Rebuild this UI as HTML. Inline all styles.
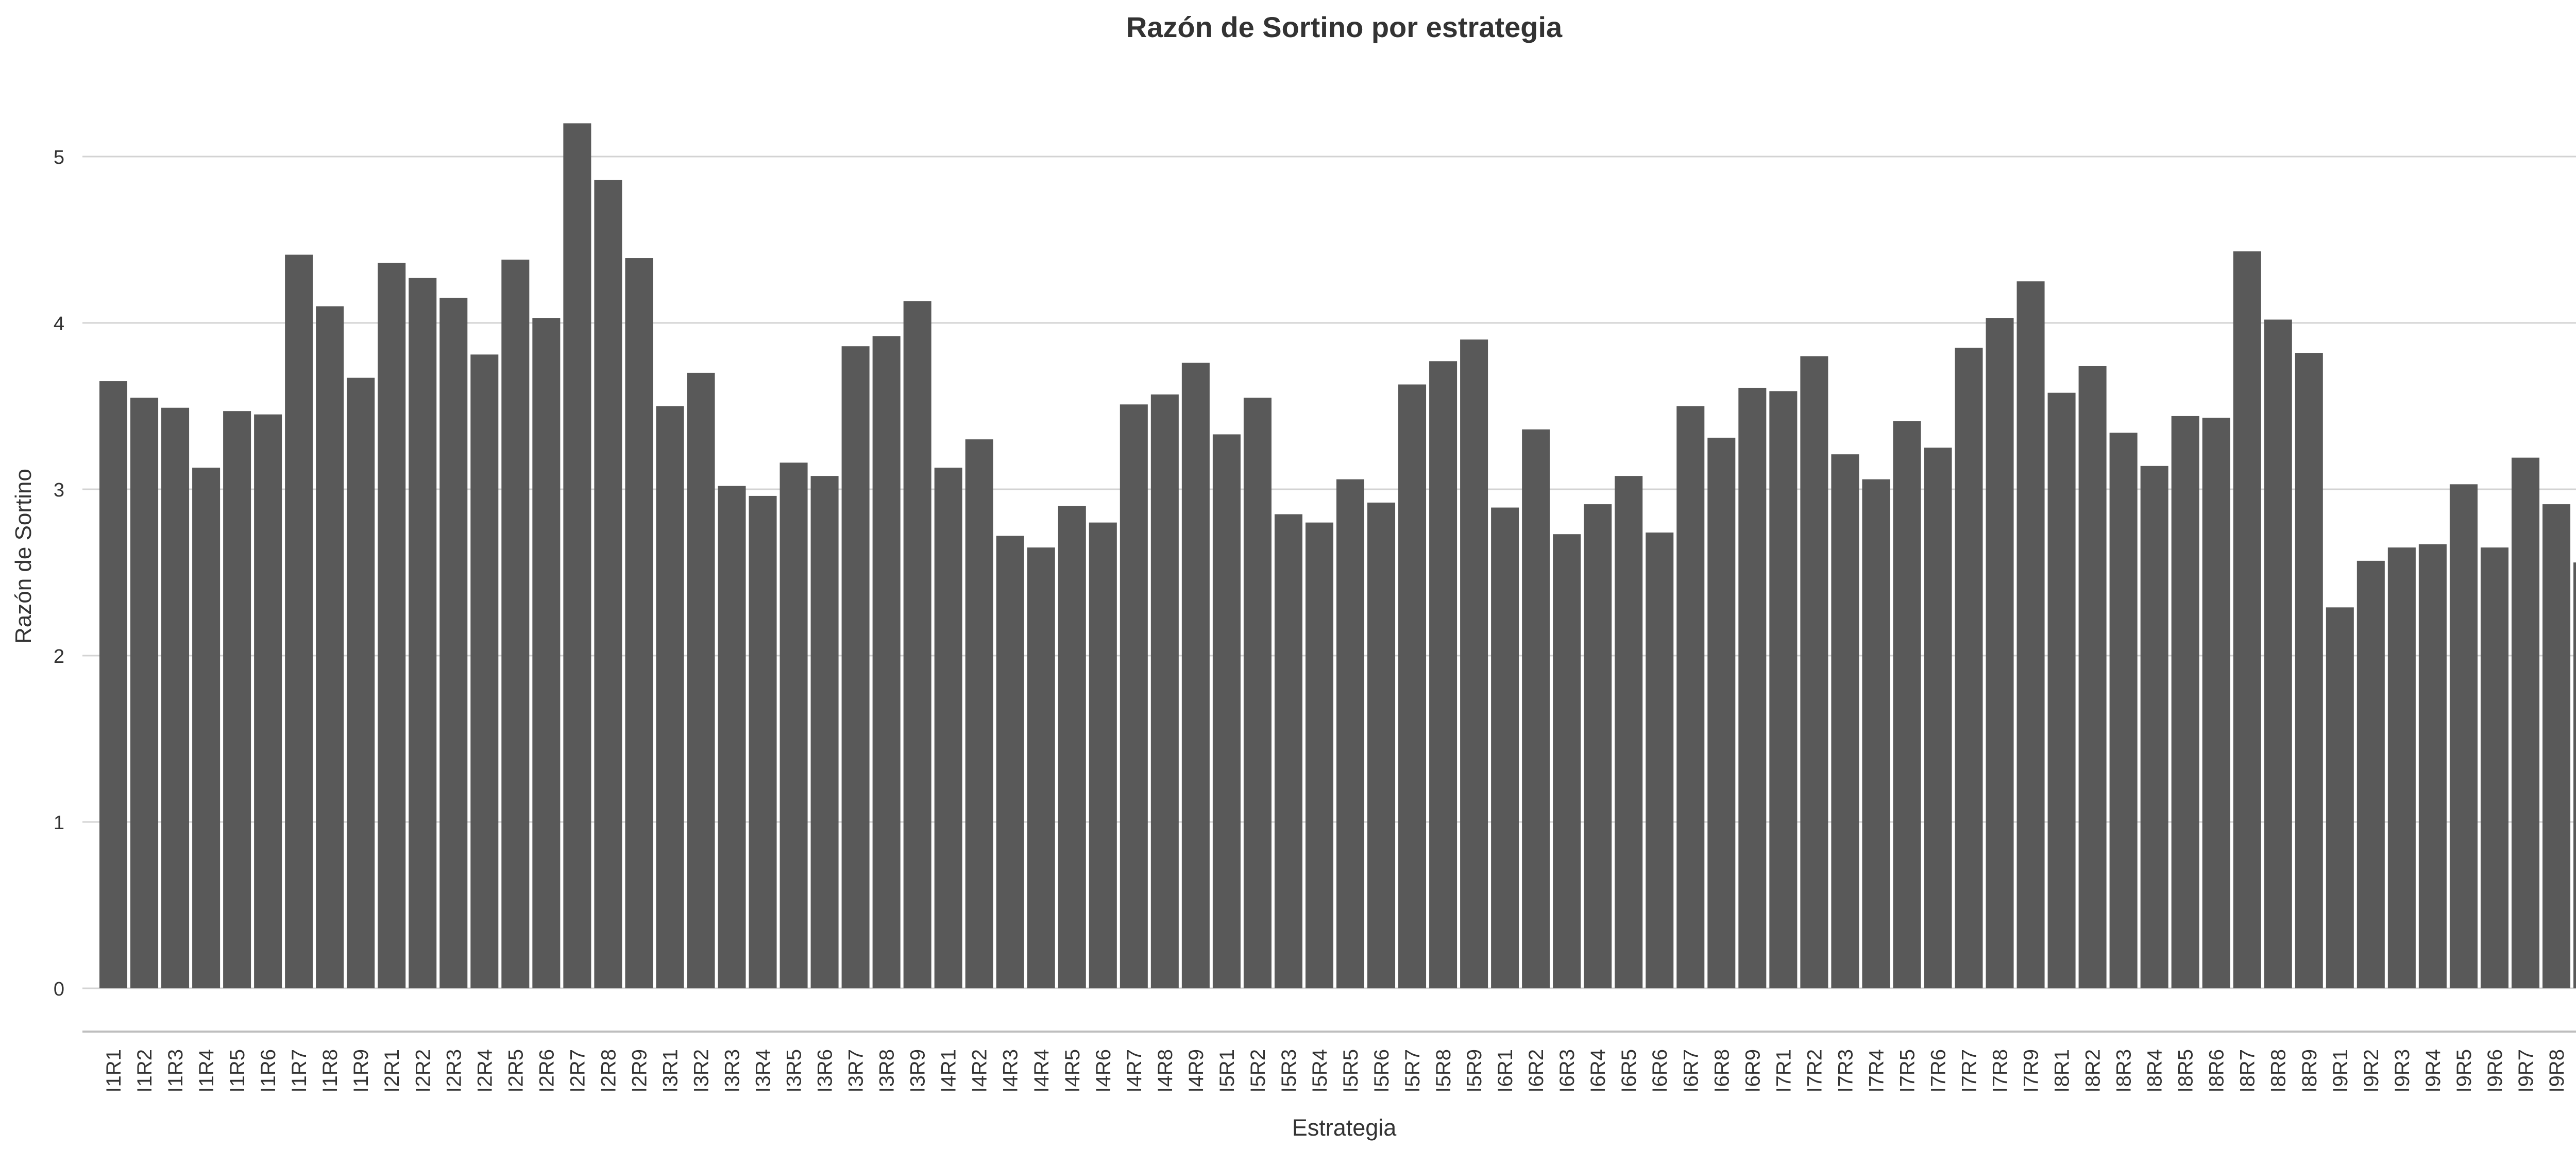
<!DOCTYPE html>
<html><head><meta charset="utf-8"><style>html,body{margin:0;padding:0;background:#fff;}svg{display:block;}</style></head>
<body>
<svg id="chart" width="5081" height="2231" xmlns="http://www.w3.org/2000/svg" font-family="Liberation Sans, Arial, sans-serif">
<text x="2609" y="72" text-anchor="middle" font-size="56" font-weight="bold" fill="#333">Razón de Sortino por estrategia</text>
<text transform="translate(60,1080) rotate(-90)" text-anchor="middle" font-size="44" fill="#333">Razón de Sortino</text>
<text x="2609" y="2205" text-anchor="middle" font-size="45" fill="#333">Estrategia</text>
<g id="grid"></g><g id="bars"></g><g id="xlabels"></g><g id="ylabels"></g>
</svg>
<script>
const categories = [];
for (let i = 1; i <= 9; i++) for (let r = 1; r <= 9; r++) categories.push('I' + i + 'R' + r);
const values = [
3.65,3.55,3.49,3.13,3.47,3.45,4.41,4.10,3.67,
4.36,4.27,4.15,3.81,4.38,4.03,5.20,4.86,4.39,
3.50,3.70,3.02,2.96,3.16,3.08,3.86,3.92,4.13,
3.13,3.30,2.72,2.65,2.90,2.80,3.51,3.57,3.76,
3.33,3.55,2.85,2.80,3.06,2.92,3.63,3.77,3.90,
2.89,3.36,2.73,2.91,3.08,2.74,3.50,3.31,3.61,
3.59,3.80,3.21,3.06,3.41,3.25,3.85,4.03,4.25,
3.58,3.74,3.34,3.14,3.44,3.43,4.43,4.02,3.82,
2.29,2.57,2.65,2.67,3.03,2.65,3.19,2.91,2.56];
const yTicks = [0,1,2,3,4,5];

const NS = 'http://www.w3.org/2000/svg';
const plotL = 160, plotR = 5058, bandL = 190, bandR = 5052;
const y0 = 1919, unit = 323;
const yScale = v => y0 - v * unit;
const step = (bandR - bandL) / categories.length;
const xScale = i => bandL + i * step;
function mk(tag, attrs, parent) {
  const e = document.createElementNS(NS, tag);
  for (const k in attrs) e.setAttribute(k, attrs[k]);
  parent.appendChild(e);
  return e;
}
const grid = document.getElementById('grid');
const bars = document.getElementById('bars');
const xl = document.getElementById('xlabels');
const yl = document.getElementById('ylabels');
yTicks.forEach(t => {
  const l = mk('line', {x1: plotL, x2: plotR, y1: yScale(t), y2: yScale(t), stroke: '#d3d3d3', 'stroke-width': 3}, grid);
  
  
  const tx = mk('text', {x: 125, y: yScale(t) + 14, 'text-anchor': 'end', 'font-size': 38, fill: '#333'}, yl);
  tx.textContent = t;
  
  
});
const ax = mk('line', {x1: plotL, x2: plotR, y1: 2003, y2: 2003, stroke: '#bebebe', 'stroke-width': 4}, grid);


categories.forEach((c, i) => {
  const x = xScale(i) + step * 0.05, w = step * 0.9;
  const r = mk('rect', {x: x, y: yScale(values[i]), width: w, height: y0 - yScale(values[i]), fill: '#595959'}, bars);
  
  
  const cx = xScale(i) + step / 2;
  const t = mk('text', {transform: 'translate(' + (cx + 14) + ',2037) rotate(-90)', 'text-anchor': 'end', 'font-size': 40, fill: '#333'}, xl);
  t.textContent = c;
  
  
});
</script>
</body></html>
